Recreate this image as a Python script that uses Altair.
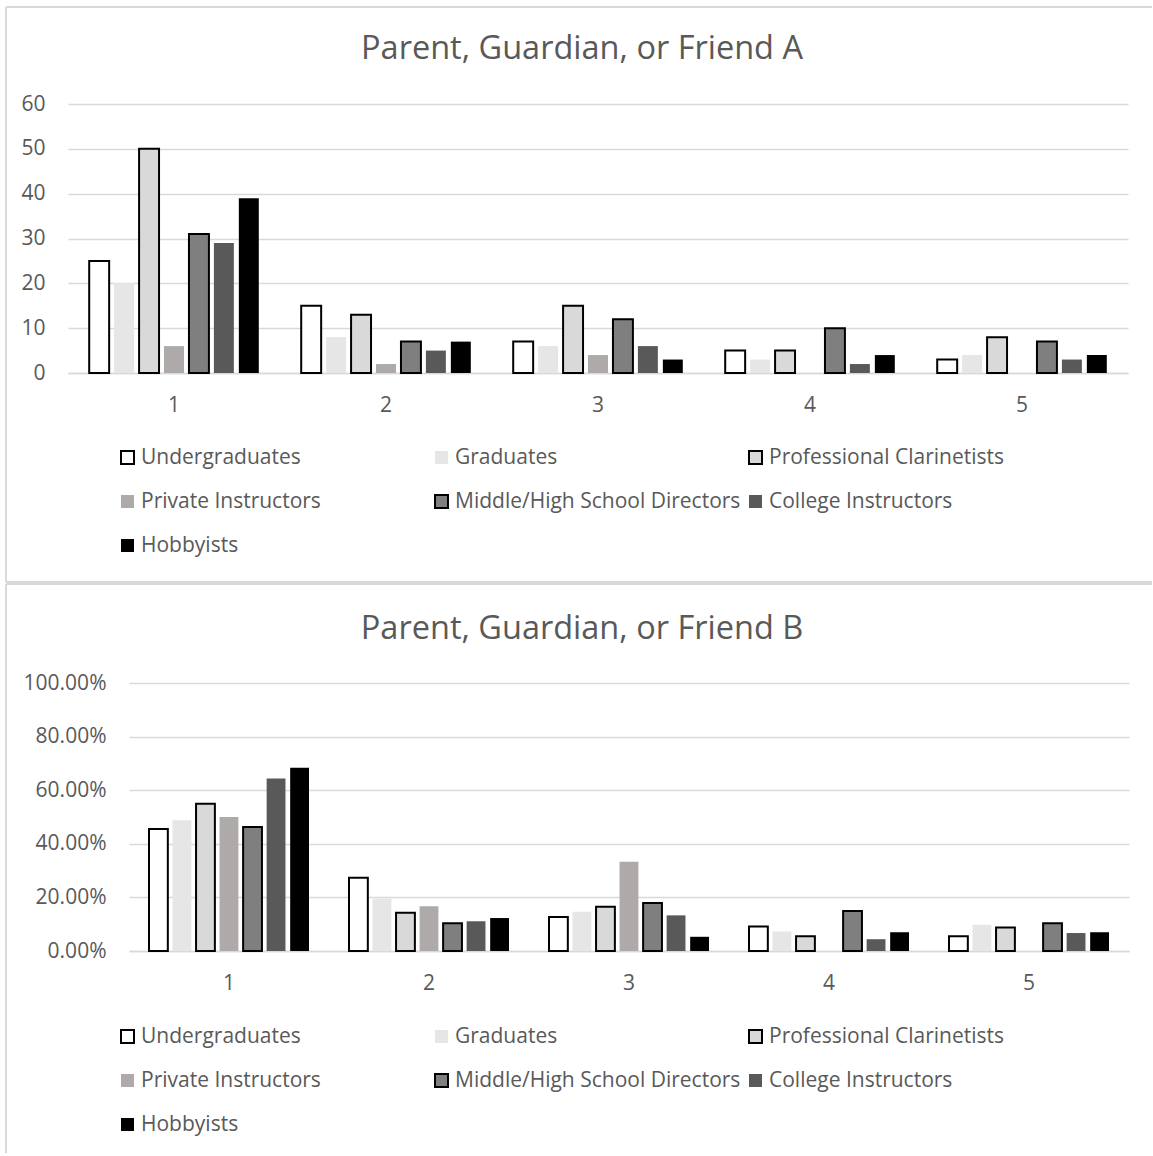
import altair as alt
import pandas as pd

FONT = "Open Sans"
TEXT = "#595959"
GRID = "#d9d9d9"

groups = ["1", "2", "3", "4", "5"]
series = [
    "Undergraduates",
    "Graduates",
    "Professional Clarinetists",
    "Private Instructors",
    "Middle/High School Directors",
    "College Instructors",
    "Hobbyists",
]
fills = ["#ffffff", "#e7e6e6", "#d9d9d9", "#aeaaaa", "#7f7f7f", "#595959", "#000000"]
strokes = ["#000000", "transparent", "#000000", "transparent", "#000000", "transparent", "transparent"]

# Chart A (counts)
a_undergraduates = [25, 15, 7, 5, 3]
a_graduates = [20, 8, 6, 3, 4]
a_professional = [50, 13, 15, 5, 8]
a_private = [6, 2, 4, 0, 0]
a_mhs_directors = [31, 7, 12, 10, 7]
a_college = [29, 5, 6, 2, 3]
a_hobbyists = [39, 7, 3, 4, 4]

# Chart B (percent)
b_undergraduates = [45.5, 27.3, 12.7, 9.1, 5.5]
b_graduates = [48.8, 19.5, 14.6, 7.3, 9.8]
b_professional = [54.9, 14.3, 16.5, 5.5, 8.8]
b_private = [50.0, 16.7, 33.3, 0.0, 0.0]
b_mhs_directors = [46.3, 10.4, 17.9, 14.9, 10.4]
b_college = [64.4, 11.1, 13.3, 4.4, 6.7]
b_hobbyists = [68.4, 12.3, 5.3, 7.0, 7.0]

title_a = "Parent, Guardian, or Friend A"
title_b = "Parent, Guardian, or Friend B"

ORIGIN_X = 68  # shared plot origin for both panels
PAD_INNER = 0.2
PAD_OUTER = 0.1


def long_table(lists, scale=1.0):
    rows = []
    for s, vals in zip(series, lists):
        for g, v in zip(groups, vals):
            rows.append({"group": g, "series": s, "value": v * scale})
    return pd.DataFrame(rows)


df_a = long_table([a_undergraduates, a_graduates, a_professional, a_private,
                   a_mhs_directors, a_college, a_hobbyists])
df_b = long_table([b_undergraduates, b_graduates, b_professional, b_private,
                   b_mhs_directors, b_college, b_hobbyists], scale=0.01)


def legend():
    return alt.Legend(
        title=None, orient="none", legendX=117 - ORIGIN_X, legendY=343,
        direction="horizontal",
        columns=3, gridAlign="all", columnPadding=4, rowPadding=22,
        symbolType="square", symbolSize=169, symbolStrokeWidth=2,
        labelFontSize=21, labelColor=TEXT, labelFont=FONT, labelOffset=3,
        labelLimit=500,
    )


def build(df, title, plot_left_abs, plot_right_abs, top, height, ymax, yvalues, fmt,
          title_y_abs, box_top_abs, box_bottom_abs, draw_bottom):
    shift = plot_left_abs - ORIGIN_X
    width = plot_right_abs - ORIGIN_X
    n = len(groups)
    step = (plot_right_abs - plot_left_abs) / (n - PAD_INNER + 2 * PAD_OUTER)
    bandwidth = step * (1 - PAD_INNER)
    bars = alt.Chart(df).mark_bar(strokeWidth=2).encode(
        x=alt.X("group:N", sort=groups,
                scale=alt.Scale(paddingInner=PAD_INNER, paddingOuter=PAD_OUTER,
                                range=[shift, width]),
                axis=alt.Axis(title=None, labelAngle=0, labelFontSize=21, labelColor=TEXT,
                              labelFont=FONT, labelPadding=21, domainColor=GRID,
                              domainWidth=1.5, ticks=False)),
        xOffset=alt.XOffset("series:N", sort=series,
                            scale=alt.Scale(paddingInner=0.2, range=[0, bandwidth])),
        y=alt.Y("value:Q", scale=alt.Scale(domain=[0, ymax], nice=False),
                axis=alt.Axis(title=None, values=yvalues, format=fmt, grid=True,
                              gridColor=GRID, gridWidth=1.5, domain=False, ticks=False,
                              labelPadding=23, labelFontSize=21, labelColor=TEXT,
                              labelFont=FONT, offset=-shift)),
        fill=alt.Fill("series:N", sort=series,
                      scale=alt.Scale(domain=series, range=fills), legend=legend()),
        stroke=alt.Stroke("series:N", sort=series,
                          scale=alt.Scale(domain=series, range=strokes), legend=legend()),
    )
    one = pd.DataFrame({"t": [title]})
    ttl = alt.Chart(one).mark_text(fontSize=32.5, color=TEXT, font=FONT,
                                   align="center", baseline="middle").encode(
        x=alt.value(582 - ORIGIN_X), y=alt.value(title_y_abs - top), text="t:N")
    bx0 = 6 - ORIGIN_X
    bx1 = 1152 - ORIGIN_X
    by0 = box_top_abs - top
    by1 = box_bottom_abs - top
    rule_left = alt.Chart(one).mark_rule(color=GRID, strokeWidth=2).encode(
        x=alt.value(bx0), y=alt.value(by0), y2=alt.value(by1))
    rule_top = alt.Chart(one).mark_rule(color=GRID, strokeWidth=2).encode(
        x=alt.value(bx0), x2=alt.value(bx1), y=alt.value(by0))
    layers = [rule_left, rule_top, bars, ttl]
    if draw_bottom:
        rule_bottom = alt.Chart(one).mark_rule(color=GRID, strokeWidth=2).encode(
            x=alt.value(bx0), x2=alt.value(bx1), y=alt.value(by1))
        layers.insert(2, rule_bottom)
    return alt.layer(*layers).properties(width=width, height=height)


chart_a = build(df_a, title_a, 68, 1128, 103, 269, 60, [0, 10, 20, 30, 40, 50, 60], "d",
                48, 6, 581, True)
chart_b = build(df_b, title_b, 129, 1129, 682, 268, 1.0, [0, 0.2, 0.4, 0.6, 0.8, 1.0], ".2%",
                628, 583, 1152, False)

chart = alt.vconcat(chart_a, chart_b, spacing=0).resolve_legend(
    fill="independent", stroke="independent"
).resolve_scale(fill="shared", stroke="shared", xOffset="independent").properties(
    padding={"left": 5, "top": 6, "right": 0, "bottom": 0}
).configure(font=FONT, background="white").configure_view(strokeWidth=0)

chart.save("out.html", embed_options={"renderer": "svg", "actions": False})
